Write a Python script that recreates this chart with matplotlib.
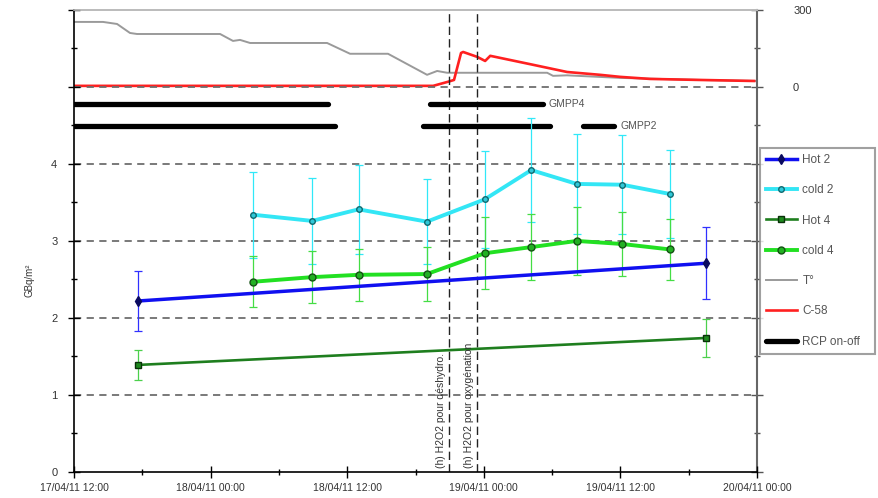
import numpy as np
import pandas as pd
import matplotlib
matplotlib.use("Agg")
import matplotlib.pyplot as plt
import matplotlib.dates as mdates
from matplotlib.ticker import MultipleLocator, FuncFormatter

plt.rcParams['font.family'] = ['Liberation Sans', 'DejaVu Sans']

# activities, GBq/m2
hot_times = ["2011-04-17 17:36", "2011-04-19 19:30"]
hot2 = [2.22, 2.71]
hot2_err = [0.39, 0.47]
hot4 = [1.39, 1.74]
hot4_err = [0.20, 0.25]

cold_times = ["2011-04-18 03:45", "2011-04-18 08:55", "2011-04-18 13:00",
              "2011-04-18 19:00", "2011-04-19 00:05", "2011-04-19 04:10",
              "2011-04-19 08:10", "2011-04-19 12:10", "2011-04-19 16:20"]
cold2 = [3.34, 3.26, 3.41, 3.25, 3.54, 3.92, 3.74, 3.73, 3.61]
cold2_err = [0.56, 0.56, 0.58, 0.55, 0.63, 0.68, 0.65, 0.64, 0.57]
cold4 = [2.47, 2.53, 2.56, 2.57, 2.84, 2.92, 3.00, 2.96, 2.89]
cold4_err = [0.33, 0.34, 0.34, 0.35, 0.47, 0.43, 0.44, 0.41, 0.40]

# temperature (right axis)
temp_times = ["2011-04-17 12:00", "2011-04-17 14:33", "2011-04-17 15:47",
              "2011-04-17 16:55", "2011-04-17 17:32", "2011-04-18 00:50",
              "2011-04-18 01:58", "2011-04-18 02:35", "2011-04-18 03:28",
              "2011-04-18 10:14", "2011-04-18 12:15", "2011-04-18 15:35",
              "2011-04-18 19:01", "2011-04-18 19:54", "2011-04-18 20:47",
              "2011-04-19 05:34", "2011-04-19 06:05", "2011-04-19 07:19",
              "2011-04-19 11:59", "2011-04-19 19:00", "2011-04-20 00:00"]
temp = [253, 253, 245, 210, 206, 206, 179, 183, 171, 171, 129, 129,
        47, 62, 55, 55, 43, 45, 35, 27, 23]

# C-58 (right axis)
c58_times = ["2011-04-17 12:00", "2011-04-18 19:33", "2011-04-18 20:47",
             "2011-04-18 21:23", "2011-04-18 22:00", "2011-04-18 22:11",
             "2011-04-18 23:25", "2011-04-19 00:07", "2011-04-19 00:34",
             "2011-04-19 04:20", "2011-04-19 07:19", "2011-04-19 10:13",
             "2011-04-19 11:59", "2011-04-19 14:36", "2011-04-19 19:00",
             "2011-04-19 23:45"]
c58 = [4, 4, 19, 27, 132, 136, 117, 101, 121, 86, 58, 47, 39, 31, 27, 23]

# pump running periods
gmpp4_on = [("2011-04-17 12:00", "2011-04-18 10:18"),
            ("2011-04-18 19:18", "2011-04-19 05:12")]
gmpp2_on = [("2011-04-17 12:00", "2011-04-18 10:54"),
            ("2011-04-18 18:42", "2011-04-19 05:48"),
            ("2011-04-19 08:42", "2011-04-19 11:24")]

events = ["2011-04-18 20:57", "2011-04-18 23:24"]
event_labels = ["(h) H2O2 pour déshydro.", "(h) H2O2 pour oxygénation"]

hot_t = pd.to_datetime(hot_times)
cold_t = pd.to_datetime(cold_times)
temp_t = pd.to_datetime(temp_times)
c58_t = pd.to_datetime(c58_times)
ev_t = pd.to_datetime(events)

fig = plt.figure(figsize=(8.79, 4.98), dpi=100)
ax = fig.add_axes([0.0842, 0.0522, 0.777, 0.928])
ax2 = ax.twinx()
ax.set_zorder(2)
ax.patch.set_visible(False)

ax.set_xlim(pd.Timestamp("2011-04-17 12:00"), pd.Timestamp("2011-04-20 00:00"))
ax.set_ylim(0, 6)
ax2.set_ylim(-1500, 300)

grid_c = '#6e6e6e'
for yv in [1, 2, 3, 4, 5]:
    ax.axhline(yv, color=grid_c, lw=1.3, ls=(0, (4, 3)), zorder=0)

for t in ev_t:
    ax.axvline(t, color='#222222', lw=1.0, ls=(0, (6, 3)), zorder=1)

# right-axis series
l_t, = ax2.plot(temp_t, temp, color='#9a9a9a', lw=1.4, label='T°')
l_c, = ax2.plot(c58_t, c58, color='#ff2020', lw=1.9, label='C-58')

# pump bars
for a, b in gmpp4_on:
    l_rcp, = ax.plot(pd.to_datetime([a, b]), [4.78, 4.78], color='black',
                     lw=3.8, solid_capstyle='round', label='RCP on-off')
for a, b in gmpp2_on:
    ax.plot(pd.to_datetime([a, b]), [4.49, 4.49], color='black', lw=3.8,
            solid_capstyle='round')
ax.text(pd.Timestamp("2011-04-19 05:40"), 4.78, "GMPP4", fontsize=7.5,
        color='#555555', va='center')
ax.text(pd.Timestamp("2011-04-19 12:00"), 4.49, "GMPP2", fontsize=7.5,
        color='#555555', va='center')

# error bars
ax.errorbar(hot_t, hot2, yerr=hot2_err, fmt='none', ecolor='#3030ff',
            elinewidth=0.9, capsize=3, capthick=0.9)
ax.errorbar(cold_t, cold2, yerr=cold2_err, fmt='none', ecolor='#30e8f8',
            elinewidth=0.9, capsize=3, capthick=0.9)
ax.errorbar(hot_t, hot4, yerr=hot4_err, fmt='none', ecolor='#4cd04c',
            elinewidth=0.9, capsize=3, capthick=0.9)
ax.errorbar(cold_t, cold4, yerr=cold4_err, fmt='none', ecolor='#44dd44',
            elinewidth=0.9, capsize=3, capthick=0.9)

l_h2, = ax.plot(hot_t, hot2, color='#1010f0', lw=2.5, marker='d', ms=5,
                mfc='#0a0a60', mec='#0a0a60', label='Hot 2')
l_c2, = ax.plot(cold_t, cold2, color='#33e6f5', lw=2.8, marker='o', ms=4,
                mfc='#30c8d8', mec='#106a70', label='cold 2')
l_h4, = ax.plot(hot_t, hot4, color='#1e7e1e', lw=1.9, marker='s', ms=5,
                mfc='#1e8a1e', mec='#0a300a', label='Hot 4')
l_c4, = ax.plot(cold_t, cold4, color='#22e022', lw=2.8, marker='o', ms=5,
                mfc='#22b022', mec='#145214', label='cold 4')

for t, txt in zip(ev_t, event_labels):
    ax.annotate(txt, xy=(t, 0.02), xytext=(-2, 2), textcoords='offset points',
                rotation=90, ha='right', va='bottom', fontsize=7.5,
                color='#333333')

# axes styling
ax.xaxis.set_major_locator(mdates.HourLocator(byhour=[0, 12]))
ax.xaxis.set_minor_locator(mdates.HourLocator(byhour=[6, 18]))
ax.xaxis.set_major_formatter(mdates.DateFormatter('%d/%m/%y %H:%M'))
ax.yaxis.set_major_locator(MultipleLocator(1))
ax.yaxis.set_minor_locator(MultipleLocator(0.5))
ax.yaxis.set_major_formatter(FuncFormatter(lambda v, p: '%d' % v if v <= 4 else ''))
ax2.yaxis.set_major_locator(MultipleLocator(300))
ax2.yaxis.set_minor_locator(MultipleLocator(150))
ax2.yaxis.set_major_formatter(FuncFormatter(lambda v, p: '%d' % v if v >= 0 else ''))

ax.tick_params(axis='both', which='major', direction='inout', length=8,
               width=1, labelsize=8, labelcolor='#333333')
ax.tick_params(axis='both', which='minor', direction='inout', length=5, width=1)
ax.tick_params(axis='y', pad=8)
ax.tick_params(axis='x', labelsize=7.5, pad=4)
ax2.tick_params(axis='y', which='major', direction='inout', length=8,
                width=1, labelsize=8, labelcolor='#333333', color='#555555',
                pad=22)
ax2.tick_params(axis='y', which='minor', direction='inout', length=5,
                width=1, color='#555555')

for a in (ax, ax2):
    a.spines['top'].set_color('#bbbbbb')
    a.spines['top'].set_linewidth(1.2)
ax.spines['right'].set_visible(False)
ax2.spines['left'].set_visible(False)
ax2.spines['bottom'].set_visible(False)
ax2.spines['right'].set_color('#666666')
ax2.spines['right'].set_linewidth(1.5)
ax.spines['left'].set_linewidth(1.2)
ax.spines['bottom'].set_linewidth(1.2)

fig.text(30 / 879, 1 - 280 / 498, "GBq/m²", rotation=90, fontsize=7,
         ha='center', va='center', color='#333333')

handles = [l_h2, l_c2, l_h4, l_c4, l_t, l_c, l_rcp]
leg = fig.legend(handles, [h.get_label() for h in handles], loc='upper left',
                 bbox_to_anchor=(760 / 879, 1 - 362 / 498, 115 / 879, 214 / 498),
                 mode='expand', frameon=True, fancybox=False, fontsize=8.5,
                 labelspacing=1.55, handlelength=2.6, handletextpad=0.5,
                 borderpad=0.5, borderaxespad=0.0, labelcolor='#555555')
leg.get_frame().set_edgecolor('#888888')
leg.get_frame().set_linewidth(1.5)

fig.savefig('out.png', dpi=100)
